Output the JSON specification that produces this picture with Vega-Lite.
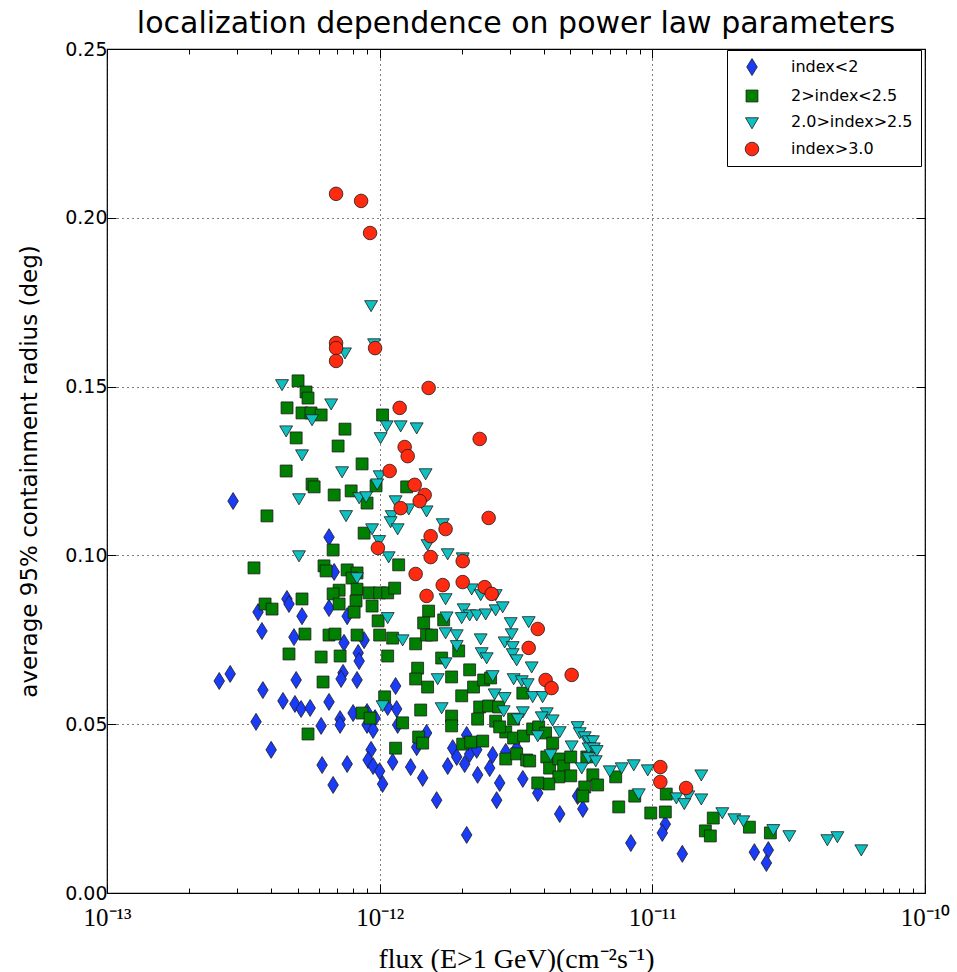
{
  "$schema": "https://vega.github.io/schema/vega-lite/v6.json",
  "width": 818,
  "height": 844,
  "autosize": {"type": "none"},
  "padding": {"left": 107, "top": 49, "right": 32, "bottom": 79},
  "background": "white",
  "title": {"text": "localization dependence on power law parameters", "font": "DejaVu Sans", "fontSize": 30, "fontWeight": "normal", "color": "#000", "anchor": "middle", "offset": 1},
  "config": {
    "view": {"stroke": "#000", "strokeWidth": 1.2},
    "axis": {"domain": false}
  },
  "datasets": {
    "pts": [
      {"group": "index<2", "flux": 2.90e-13, "radius": 0.1161},
      {"group": "index<2", "flux": 6.52e-13, "radius": 0.1054},
      {"group": "index<2", "flux": 6.81e-13, "radius": 0.0951},
      {"group": "index<2", "flux": 4.57e-13, "radius": 0.0871},
      {"group": "index<2", "flux": 4.65e-13, "radius": 0.0856},
      {"group": "index<2", "flux": 3.58e-13, "radius": 0.0832},
      {"group": "index<2", "flux": 5.19e-13, "radius": 0.0820},
      {"group": "index<2", "flux": 6.52e-13, "radius": 0.0844},
      {"group": "index<2", "flux": 7.60e-13, "radius": 0.0820},
      {"group": "index<2", "flux": 3.70e-13, "radius": 0.0776},
      {"group": "index<2", "flux": 4.85e-13, "radius": 0.0758},
      {"group": "index<2", "flux": 7.40e-13, "radius": 0.0741},
      {"group": "index<2", "flux": 8.77e-13, "radius": 0.0749},
      {"group": "index<2", "flux": 8.34e-13, "radius": 0.0711},
      {"group": "index<2", "flux": 8.41e-13, "radius": 0.0687},
      {"group": "index<2", "flux": 7.34e-13, "radius": 0.0652},
      {"group": "index<2", "flux": 7.22e-13, "radius": 0.0634},
      {"group": "index<2", "flux": 8.26e-13, "radius": 0.0631},
      {"group": "index<2", "flux": 2.58e-13, "radius": 0.0628},
      {"group": "index<2", "flux": 2.83e-13, "radius": 0.0649},
      {"group": "index<2", "flux": 3.73e-13, "radius": 0.0601},
      {"group": "index<2", "flux": 4.94e-13, "radius": 0.0631},
      {"group": "index<2", "flux": 1.144e-12, "radius": 0.0613},
      {"group": "index<2", "flux": 4.42e-13, "radius": 0.0569},
      {"group": "index<2", "flux": 4.89e-13, "radius": 0.0560},
      {"group": "index<2", "flux": 5.15e-13, "radius": 0.0545},
      {"group": "index<2", "flux": 5.56e-13, "radius": 0.0548},
      {"group": "index<2", "flux": 6.52e-13, "radius": 0.0566},
      {"group": "index<2", "flux": 7.99e-13, "radius": 0.0533},
      {"group": "index<2", "flux": 8.99e-13, "radius": 0.0536},
      {"group": "index<2", "flux": 7.16e-13, "radius": 0.0515},
      {"group": "index<2", "flux": 7.16e-13, "radius": 0.0498},
      {"group": "index<2", "flux": 6.10e-13, "radius": 0.0495},
      {"group": "index<2", "flux": 3.52e-13, "radius": 0.0507},
      {"group": "index<2", "flux": 9.62e-13, "radius": 0.0518},
      {"group": "index<2", "flux": 8.99e-13, "radius": 0.0498},
      {"group": "index<2", "flux": 9.46e-13, "radius": 0.0483},
      {"group": "index<2", "flux": 1.070e-12, "radius": 0.0551},
      {"group": "index<2", "flux": 1.154e-12, "radius": 0.0545},
      {"group": "index<2", "flux": 1.164e-12, "radius": 0.0498},
      {"group": "index<2", "flux": 4.00e-13, "radius": 0.0424},
      {"group": "index<2", "flux": 6.15e-13, "radius": 0.0379},
      {"group": "index<2", "flux": 7.60e-13, "radius": 0.0382},
      {"group": "index<2", "flux": 9.30e-13, "radius": 0.0424},
      {"group": "index<2", "flux": 9.07e-13, "radius": 0.0394},
      {"group": "index<2", "flux": 9.46e-13, "radius": 0.0376},
      {"group": "index<2", "flux": 1.00e-12, "radius": 0.0361},
      {"group": "index<2", "flux": 6.75e-13, "radius": 0.0320},
      {"group": "index<2", "flux": 1.025e-12, "radius": 0.0323},
      {"group": "index<2", "flux": 1.116e-12, "radius": 0.0388},
      {"group": "index<2", "flux": 1.299e-12, "radius": 0.0373},
      {"group": "index<2", "flux": 1.438e-12, "radius": 0.0341},
      {"group": "index<2", "flux": 1.618e-12, "radius": 0.0275},
      {"group": "index<2", "flux": 1.486e-12, "radius": 0.0474},
      {"group": "index<2", "flux": 1.367e-12, "radius": 0.0432},
      {"group": "index<2", "flux": 1.776e-12, "radius": 0.0376},
      {"group": "index<2", "flux": 1.853e-12, "radius": 0.0429},
      {"group": "index<2", "flux": 1.917e-12, "radius": 0.0403},
      {"group": "index<2", "flux": 2.138e-12, "radius": 0.0412},
      {"group": "index<2", "flux": 2.27e-12, "radius": 0.0424},
      {"group": "index<2", "flux": 2.05e-12, "radius": 0.0382},
      {"group": "index<2", "flux": 2.287e-12, "radius": 0.0350},
      {"group": "index<2", "flux": 2.085e-12, "radius": 0.0468},
      {"group": "index<2", "flux": 2.597e-12, "radius": 0.0409},
      {"group": "index<2", "flux": 2.90e-12, "radius": 0.0418},
      {"group": "index<2", "flux": 3.18e-12, "radius": 0.0429},
      {"group": "index<2", "flux": 2.532e-12, "radius": 0.0370},
      {"group": "index<2", "flux": 2.755e-12, "radius": 0.0326},
      {"group": "index<2", "flux": 3.35e-12, "radius": 0.0338},
      {"group": "index<2", "flux": 2.686e-12, "radius": 0.0275},
      {"group": "index<2", "flux": 3.80e-12, "radius": 0.0296},
      {"group": "index<2", "flux": 5.32e-12, "radius": 0.0287},
      {"group": "index<2", "flux": 5.56e-12, "radius": 0.0249},
      {"group": "index<2", "flux": 4.574e-12, "radius": 0.0234},
      {"group": "index<2", "flux": 2.085e-12, "radius": 0.0172},
      {"group": "index<2", "flux": 8.34e-12, "radius": 0.0148},
      {"group": "index<2", "flux": 1.116e-11, "radius": 0.0204},
      {"group": "index<2", "flux": 1.088e-11, "radius": 0.0178},
      {"group": "index<2", "flux": 1.288e-11, "radius": 0.0116},
      {"group": "index<2", "flux": 2.367e-11, "radius": 0.0121},
      {"group": "index<2", "flux": 2.663e-11, "radius": 0.0127},
      {"group": "index<2", "flux": 2.62e-11, "radius": 0.0089},

      {"group": "2>index<2.5", "flux": 5.02e-13, "radius": 0.1517},
      {"group": "2>index<2.5", "flux": 5.37e-13, "radius": 0.1484},
      {"group": "2>index<2.5", "flux": 5.46e-13, "radius": 0.1466},
      {"group": "2>index<2.5", "flux": 4.574e-13, "radius": 0.1437},
      {"group": "2>index<2.5", "flux": 5.19e-13, "radius": 0.1422},
      {"group": "2>index<2.5", "flux": 5.60e-13, "radius": 0.1422},
      {"group": "2>index<2.5", "flux": 6.10e-13, "radius": 0.1416},
      {"group": "2>index<2.5", "flux": 1.025e-12, "radius": 0.1416},
      {"group": "2>index<2.5", "flux": 7.46e-13, "radius": 0.1374},
      {"group": "2>index<2.5", "flux": 4.94e-13, "radius": 0.1348},
      {"group": "2>index<2.5", "flux": 7.04e-13, "radius": 0.1324},
      {"group": "2>index<2.5", "flux": 8.62e-13, "radius": 0.1271},
      {"group": "2>index<2.5", "flux": 4.54e-13, "radius": 0.1250},
      {"group": "2>index<2.5", "flux": 5.65e-13, "radius": 0.1211},
      {"group": "2>index<2.5", "flux": 5.75e-13, "radius": 0.1203},
      {"group": "2>index<2.5", "flux": 6.81e-13, "radius": 0.1179},
      {"group": "2>index<2.5", "flux": 7.86e-13, "radius": 0.1191},
      {"group": "2>index<2.5", "flux": 9.70e-13, "radius": 0.1206},
      {"group": "2>index<2.5", "flux": 1.256e-12, "radius": 0.1203},
      {"group": "2>index<2.5", "flux": 8.99e-13, "radius": 0.1155},
      {"group": "2>index<2.5", "flux": 3.86e-13, "radius": 0.1117},
      {"group": "2>index<2.5", "flux": 8.77e-13, "radius": 0.1066},
      {"group": "2>index<2.5", "flux": 6.75e-13, "radius": 0.1016},
      {"group": "2>index<2.5", "flux": 1.174e-12, "radius": 0.0972},
      {"group": "2>index<2.5", "flux": 3.46e-13, "radius": 0.0963},
      {"group": "2>index<2.5", "flux": 6.25e-13, "radius": 0.0969},
      {"group": "2>index<2.5", "flux": 6.36e-13, "radius": 0.0954},
      {"group": "2>index<2.5", "flux": 7.60e-13, "radius": 0.0957},
      {"group": "2>index<2.5", "flux": 8.26e-13, "radius": 0.0948},
      {"group": "2>index<2.5", "flux": 7.92e-13, "radius": 0.0933},
      {"group": "2>index<2.5", "flux": 8.26e-13, "radius": 0.0900},
      {"group": "2>index<2.5", "flux": 7.10e-13, "radius": 0.0897},
      {"group": "2>index<2.5", "flux": 6.75e-13, "radius": 0.0886},
      {"group": "2>index<2.5", "flux": 9.15e-13, "radius": 0.0889},
      {"group": "2>index<2.5", "flux": 1.00e-12, "radius": 0.0889},
      {"group": "2>index<2.5", "flux": 1.070e-12, "radius": 0.0889},
      {"group": "2>index<2.5", "flux": 1.135e-12, "radius": 0.0903},
      {"group": "2>index<2.5", "flux": 8.19e-13, "radius": 0.0865},
      {"group": "2>index<2.5", "flux": 7.10e-13, "radius": 0.0856},
      {"group": "2>index<2.5", "flux": 3.80e-13, "radius": 0.0856},
      {"group": "2>index<2.5", "flux": 4.03e-13, "radius": 0.0841},
      {"group": "2>index<2.5", "flux": 5.19e-13, "radius": 0.0871},
      {"group": "2>index<2.5", "flux": 9.38e-13, "radius": 0.0850},
      {"group": "2>index<2.5", "flux": 8.06e-13, "radius": 0.0832},
      {"group": "2>index<2.5", "flux": 1.512e-12, "radius": 0.0835},
      {"group": "2>index<2.5", "flux": 9.87e-13, "radius": 0.0806},
      {"group": "2>index<2.5", "flux": 1.450e-12, "radius": 0.0800},
      {"group": "2>index<2.5", "flux": 1.717e-12, "radius": 0.0809},
      {"group": "2>index<2.5", "flux": 5.32e-13, "radius": 0.0767},
      {"group": "2>index<2.5", "flux": 6.52e-13, "radius": 0.0764},
      {"group": "2>index<2.5", "flux": 6.86e-13, "radius": 0.0767},
      {"group": "2>index<2.5", "flux": 8.26e-13, "radius": 0.0764},
      {"group": "2>index<2.5", "flux": 1.00e-12, "radius": 0.0764},
      {"group": "2>index<2.5", "flux": 1.116e-12, "radius": 0.0755},
      {"group": "2>index<2.5", "flux": 1.355e-12, "radius": 0.0738},
      {"group": "2>index<2.5", "flux": 1.486e-12, "radius": 0.0764},
      {"group": "2>index<2.5", "flux": 1.551e-12, "radius": 0.0764},
      {"group": "2>index<2.5", "flux": 4.65e-13, "radius": 0.0708},
      {"group": "2>index<2.5", "flux": 6.10e-13, "radius": 0.0699},
      {"group": "2>index<2.5", "flux": 7.16e-13, "radius": 0.0702},
      {"group": "2>index<2.5", "flux": 1.070e-12, "radius": 0.0702},
      {"group": "2>index<2.5", "flux": 1.378e-12, "radius": 0.0666},
      {"group": "2>index<2.5", "flux": 1.355e-12, "radius": 0.0634},
      {"group": "2>index<2.5", "flux": 1.499e-12, "radius": 0.0610},
      {"group": "2>index<2.5", "flux": 1.688e-12, "radius": 0.0696},
      {"group": "2>index<2.5", "flux": 1.949e-12, "radius": 0.0717},
      {"group": "2>index<2.5", "flux": 2.138e-12, "radius": 0.0661},
      {"group": "2>index<2.5", "flux": 1.836e-12, "radius": 0.0640},
      {"group": "2>index<2.5", "flux": 6.20e-13, "radius": 0.0625},
      {"group": "2>index<2.5", "flux": 1.999e-12, "radius": 0.0584},
      {"group": "2>index<2.5", "flux": 2.21e-12, "radius": 0.0610},
      {"group": "2>index<2.5", "flux": 2.407e-12, "radius": 0.0631},
      {"group": "2>index<2.5", "flux": 2.553e-12, "radius": 0.0637},
      {"group": "2>index<2.5", "flux": 1.043e-12, "radius": 0.0581},
      {"group": "2>index<2.5", "flux": 1.414e-12, "radius": 0.0542},
      {"group": "2>index<2.5", "flux": 1.836e-12, "radius": 0.0524},
      {"group": "2>index<2.5", "flux": 1.836e-12, "radius": 0.0495},
      {"group": "2>index<2.5", "flux": 2.327e-12, "radius": 0.0551},
      {"group": "2>index<2.5", "flux": 2.51e-12, "radius": 0.0554},
      {"group": "2>index<2.5", "flux": 2.73e-12, "radius": 0.0551},
      {"group": "2>index<2.5", "flux": 2.287e-12, "radius": 0.0515},
      {"group": "2>index<2.5", "flux": 2.663e-12, "radius": 0.0509},
      {"group": "2>index<2.5", "flux": 8.62e-13, "radius": 0.0533},
      {"group": "2>index<2.5", "flux": 9.22e-13, "radius": 0.0518},
      {"group": "2>index<2.5", "flux": 1.214e-12, "radius": 0.0504},
      {"group": "2>index<2.5", "flux": 5.46e-13, "radius": 0.0471},
      {"group": "2>index<2.5", "flux": 1.39e-12, "radius": 0.0462},
      {"group": "2>index<2.5", "flux": 1.438e-12, "radius": 0.0444},
      {"group": "2>index<2.5", "flux": 2.016e-12, "radius": 0.0441},
      {"group": "2>index<2.5", "flux": 2.157e-12, "radius": 0.0447},
      {"group": "2>index<2.5", "flux": 2.387e-12, "radius": 0.0450},
      {"group": "2>index<2.5", "flux": 1.144e-12, "radius": 0.0429},
      {"group": "2>index<2.5", "flux": 3.35e-12, "radius": 0.0592},
      {"group": "2>index<2.5", "flux": 3.10e-12, "radius": 0.0515},
      {"group": "2>index<2.5", "flux": 2.90e-12, "radius": 0.0477},
      {"group": "2>index<2.5", "flux": 3.10e-12, "radius": 0.0459},
      {"group": "2>index<2.5", "flux": 3.37e-12, "radius": 0.0465},
      {"group": "2>index<2.5", "flux": 3.64e-12, "radius": 0.0486},
      {"group": "2>index<2.5", "flux": 3.83e-12, "radius": 0.0492},
      {"group": "2>index<2.5", "flux": 4.06e-12, "radius": 0.0474},
      {"group": "2>index<2.5", "flux": 4.31e-12, "radius": 0.0444},
      {"group": "2>index<2.5", "flux": 2.90e-12, "radius": 0.0397},
      {"group": "2>index<2.5", "flux": 3.18e-12, "radius": 0.0412},
      {"group": "2>index<2.5", "flux": 3.46e-12, "radius": 0.0394},
      {"group": "2>index<2.5", "flux": 3.55e-12, "radius": 0.0391},
      {"group": "2>index<2.5", "flux": 4.10e-12, "radius": 0.0403},
      {"group": "2>index<2.5", "flux": 4.20e-12, "radius": 0.0370},
      {"group": "2>index<2.5", "flux": 4.54e-12, "radius": 0.0397},
      {"group": "2>index<2.5", "flux": 4.73e-12, "radius": 0.0376},
      {"group": "2>index<2.5", "flux": 5.02e-12, "radius": 0.0403},
      {"group": "2>index<2.5", "flux": 5.02e-12, "radius": 0.0347},
      {"group": "2>index<2.5", "flux": 4.54e-12, "radius": 0.0344},
      {"group": "2>index<2.5", "flux": 4.17e-12, "radius": 0.0323},
      {"group": "2>index<2.5", "flux": 3.80e-12, "radius": 0.0326},
      {"group": "2>index<2.5", "flux": 5.75e-12, "radius": 0.0403},
      {"group": "2>index<2.5", "flux": 6.05e-12, "radius": 0.0350},
      {"group": "2>index<2.5", "flux": 6.30e-12, "radius": 0.0320},
      {"group": "2>index<2.5", "flux": 5.65e-12, "radius": 0.0314},
      {"group": "2>index<2.5", "flux": 5.56e-12, "radius": 0.0287},
      {"group": "2>index<2.5", "flux": 7.34e-12, "radius": 0.0344},
      {"group": "2>index<2.5", "flux": 7.53e-12, "radius": 0.0255},
      {"group": "2>index<2.5", "flux": 8.62e-12, "radius": 0.0287},
      {"group": "2>index<2.5", "flux": 9.87e-12, "radius": 0.0237},
      {"group": "2>index<2.5", "flux": 1.125e-11, "radius": 0.0293},
      {"group": "2>index<2.5", "flux": 1.116e-11, "radius": 0.0240},
      {"group": "2>index<2.5", "flux": 1.673e-11, "radius": 0.0222},
      {"group": "2>index<2.5", "flux": 1.565e-11, "radius": 0.0184},
      {"group": "2>index<2.5", "flux": 1.632e-11, "radius": 0.0169},
      {"group": "2>index<2.5", "flux": 2.27e-11, "radius": 0.0195},
      {"group": "2>index<2.5", "flux": 2.71e-11, "radius": 0.0178},
      {"group": "2>index<2.5", "flux": 2.755e-12, "radius": 0.0492},

      {"group": "2.0>index>2.5", "flux": 9.30e-13, "radius": 0.1742},
      {"group": "2.0>index>2.5", "flux": 9.54e-13, "radius": 0.1629},
      {"group": "2.0>index>2.5", "flux": 7.46e-13, "radius": 0.1602},
      {"group": "2.0>index>2.5", "flux": 4.385e-13, "radius": 0.1508},
      {"group": "2.0>index>2.5", "flux": 6.64e-13, "radius": 0.1451},
      {"group": "2.0>index>2.5", "flux": 5.65e-13, "radius": 0.1404},
      {"group": "2.0>index>2.5", "flux": 4.54e-13, "radius": 0.1371},
      {"group": "2.0>index>2.5", "flux": 1.061e-12, "radius": 0.1386},
      {"group": "2.0>index>2.5", "flux": 1.194e-12, "radius": 0.1386},
      {"group": "2.0>index>2.5", "flux": 1.367e-12, "radius": 0.1380},
      {"group": "2.0>index>2.5", "flux": 1.008e-12, "radius": 0.1351},
      {"group": "2.0>index>2.5", "flux": 5.19e-13, "radius": 0.1300},
      {"group": "2.0>index>2.5", "flux": 7.28e-13, "radius": 0.1250},
      {"group": "2.0>index>2.5", "flux": 1.00e-12, "radius": 0.1238},
      {"group": "2.0>index>2.5", "flux": 1.474e-12, "radius": 0.1244},
      {"group": "2.0>index>2.5", "flux": 9.79e-13, "radius": 0.1214},
      {"group": "2.0>index>2.5", "flux": 8.41e-13, "radius": 0.1173},
      {"group": "2.0>index>2.5", "flux": 8.92e-13, "radius": 0.1176},
      {"group": "2.0>index>2.5", "flux": 5.06e-13, "radius": 0.1170},
      {"group": "2.0>index>2.5", "flux": 1.144e-12, "radius": 0.1164},
      {"group": "2.0>index>2.5", "flux": 1.278e-12, "radius": 0.1140},
      {"group": "2.0>index>2.5", "flux": 1.486e-12, "radius": 0.1134},
      {"group": "2.0>index>2.5", "flux": 1.107e-12, "radius": 0.1120},
      {"group": "2.0>index>2.5", "flux": 7.53e-13, "radius": 0.1120},
      {"group": "2.0>index>2.5", "flux": 1.097e-12, "radius": 0.1102},
      {"group": "2.0>index>2.5", "flux": 1.164e-12, "radius": 0.1081},
      {"group": "2.0>index>2.5", "flux": 9.38e-13, "radius": 0.1081},
      {"group": "2.0>index>2.5", "flux": 1.703e-12, "radius": 0.1096},
      {"group": "2.0>index>2.5", "flux": 9.96e-13, "radius": 0.1046},
      {"group": "2.0>index>2.5", "flux": 1.499e-12, "radius": 0.1034},
      {"group": "2.0>index>2.5", "flux": 5.06e-13, "radius": 0.1001},
      {"group": "2.0>index>2.5", "flux": 1.079e-12, "radius": 0.0998},
      {"group": "2.0>index>2.5", "flux": 1.776e-12, "radius": 0.1007},
      {"group": "2.0>index>2.5", "flux": 2.016e-12, "radius": 0.0995},
      {"group": "2.0>index>2.5", "flux": 8.26e-13, "radius": 0.0936},
      {"group": "2.0>index>2.5", "flux": 2.175e-12, "radius": 0.0903},
      {"group": "2.0>index>2.5", "flux": 2.347e-12, "radius": 0.0886},
      {"group": "2.0>index>2.5", "flux": 1.745e-12, "radius": 0.0874},
      {"group": "2.0>index>2.5", "flux": 2.663e-12, "radius": 0.0886},
      {"group": "2.0>index>2.5", "flux": 2.033e-12, "radius": 0.0844},
      {"group": "2.0>index>2.5", "flux": 2.138e-12, "radius": 0.0826},
      {"group": "2.0>index>2.5", "flux": 2.27e-12, "radius": 0.0826},
      {"group": "2.0>index>2.5", "flux": 2.448e-12, "radius": 0.0829},
      {"group": "2.0>index>2.5", "flux": 2.663e-12, "radius": 0.0841},
      {"group": "2.0>index>2.5", "flux": 2.826e-12, "radius": 0.0850},
      {"group": "2.0>index>2.5", "flux": 1.76e-12, "radius": 0.0820},
      {"group": "2.0>index>2.5", "flux": 1.999e-12, "radius": 0.0818},
      {"group": "2.0>index>2.5", "flux": 1.070e-12, "radius": 0.0818},
      {"group": "2.0>index>2.5", "flux": 1.745e-12, "radius": 0.0773},
      {"group": "2.0>index>2.5", "flux": 1.917e-12, "radius": 0.0767},
      {"group": "2.0>index>2.5", "flux": 2.347e-12, "radius": 0.0755},
      {"group": "2.0>index>2.5", "flux": 1.214e-12, "radius": 0.0752},
      {"group": "2.0>index>2.5", "flux": 3.024e-12, "radius": 0.0803},
      {"group": "2.0>index>2.5", "flux": 3.52e-12, "radius": 0.0806},
      {"group": "2.0>index>2.5", "flux": 1.917e-12, "radius": 0.0735},
      {"group": "2.0>index>2.5", "flux": 2.874e-12, "radius": 0.0746},
      {"group": "2.0>index>2.5", "flux": 3.075e-12, "radius": 0.0732},
      {"group": "2.0>index>2.5", "flux": 3.049e-12, "radius": 0.0770},
      {"group": "2.0>index>2.5", "flux": 2.367e-12, "radius": 0.0714},
      {"group": "2.0>index>2.5", "flux": 2.469e-12, "radius": 0.0699},
      {"group": "2.0>index>2.5", "flux": 3.075e-12, "radius": 0.0711},
      {"group": "2.0>index>2.5", "flux": 3.18e-12, "radius": 0.0693},
      {"group": "2.0>index>2.5", "flux": 1.745e-12, "radius": 0.0684},
      {"group": "2.0>index>2.5", "flux": 3.61e-12, "radius": 0.0672},
      {"group": "2.0>index>2.5", "flux": 2.597e-12, "radius": 0.0646},
      {"group": "2.0>index>2.5", "flux": 3.10e-12, "radius": 0.0637},
      {"group": "2.0>index>2.5", "flux": 3.32e-12, "radius": 0.0631},
      {"group": "2.0>index>2.5", "flux": 3.49e-12, "radius": 0.0622},
      {"group": "2.0>index>2.5", "flux": 1.632e-12, "radius": 0.0637},
      {"group": "2.0>index>2.5", "flux": 2.641e-12, "radius": 0.0592},
      {"group": "2.0>index>2.5", "flux": 2.874e-12, "radius": 0.0581},
      {"group": "2.0>index>2.5", "flux": 3.64e-12, "radius": 0.0584},
      {"group": "2.0>index>2.5", "flux": 3.96e-12, "radius": 0.0584},
      {"group": "2.0>index>2.5", "flux": 1.688e-12, "radius": 0.0551},
      {"group": "2.0>index>2.5", "flux": 1.025e-12, "radius": 0.0557},
      {"group": "2.0>index>2.5", "flux": 2.85e-12, "radius": 0.0542},
      {"group": "2.0>index>2.5", "flux": 3.35e-12, "radius": 0.0539},
      {"group": "2.0>index>2.5", "flux": 3.21e-12, "radius": 0.0518},
      {"group": "2.0>index>2.5", "flux": 4.10e-12, "radius": 0.0536},
      {"group": "2.0>index>2.5", "flux": 3.93e-12, "radius": 0.0524},
      {"group": "2.0>index>2.5", "flux": 4.31e-12, "radius": 0.0515},
      {"group": "2.0>index>2.5", "flux": 3.80e-12, "radius": 0.0468},
      {"group": "2.0>index>2.5", "flux": 4.574e-12, "radius": 0.0480},
      {"group": "2.0>index>2.5", "flux": 5.32e-12, "radius": 0.0495},
      {"group": "2.0>index>2.5", "flux": 5.417e-12, "radius": 0.0477},
      {"group": "2.0>index>2.5", "flux": 5.651e-12, "radius": 0.0465},
      {"group": "2.0>index>2.5", "flux": 5.84e-12, "radius": 0.0453},
      {"group": "2.0>index>2.5", "flux": 6.05e-12, "radius": 0.0453},
      {"group": "2.0>index>2.5", "flux": 5.84e-12, "radius": 0.0432},
      {"group": "2.0>index>2.5", "flux": 6.10e-12, "radius": 0.0432},
      {"group": "2.0>index>2.5", "flux": 6.25e-12, "radius": 0.0424},
      {"group": "2.0>index>2.5", "flux": 5.06e-12, "radius": 0.0438},
      {"group": "2.0>index>2.5", "flux": 5.84e-12, "radius": 0.0403},
      {"group": "2.0>index>2.5", "flux": 4.24e-12, "radius": 0.0412},
      {"group": "2.0>index>2.5", "flux": 6.20e-12, "radius": 0.0394},
      {"group": "2.0>index>2.5", "flux": 5.51e-12, "radius": 0.0373},
      {"group": "2.0>index>2.5", "flux": 6.98e-12, "radius": 0.0364},
      {"group": "2.0>index>2.5", "flux": 7.72e-12, "radius": 0.0373},
      {"group": "2.0>index>2.5", "flux": 8.55e-12, "radius": 0.0382},
      {"group": "2.0>index>2.5", "flux": 9.62e-12, "radius": 0.0367},
      {"group": "2.0>index>2.5", "flux": 8.92e-12, "radius": 0.0296},
      {"group": "2.0>index>2.5", "flux": 1.225e-11, "radius": 0.0284},
      {"group": "2.0>index>2.5", "flux": 1.355e-11, "radius": 0.0290},
      {"group": "2.0>index>2.5", "flux": 1.310e-11, "radius": 0.0267},
      {"group": "2.0>index>2.5", "flux": 1.512e-11, "radius": 0.0352},
      {"group": "2.0>index>2.5", "flux": 1.512e-11, "radius": 0.0281},
      {"group": "2.0>index>2.5", "flux": 1.806e-11, "radius": 0.0240},
      {"group": "2.0>index>2.5", "flux": 1.999e-11, "radius": 0.0222},
      {"group": "2.0>index>2.5", "flux": 2.157e-11, "radius": 0.0216},
      {"group": "2.0>index>2.5", "flux": 2.778e-11, "radius": 0.0190},
      {"group": "2.0>index>2.5", "flux": 3.18e-11, "radius": 0.0172},
      {"group": "2.0>index>2.5", "flux": 4.385e-11, "radius": 0.0160},
      {"group": "2.0>index>2.5", "flux": 4.772e-11, "radius": 0.0169},
      {"group": "2.0>index>2.5", "flux": 5.84e-11, "radius": 0.0130},

      {"group": "index>3.0", "flux": 6.92e-13, "radius": 0.2071},
      {"group": "index>3.0", "flux": 8.55e-13, "radius": 0.2050},
      {"group": "index>3.0", "flux": 9.22e-13, "radius": 0.1955},
      {"group": "index>3.0", "flux": 6.92e-13, "radius": 0.1629},
      {"group": "index>3.0", "flux": 6.92e-13, "radius": 0.1614},
      {"group": "index>3.0", "flux": 6.92e-13, "radius": 0.1576},
      {"group": "index>3.0", "flux": 9.62e-13, "radius": 0.1614},
      {"group": "index>3.0", "flux": 1.512e-12, "radius": 0.1496},
      {"group": "index>3.0", "flux": 1.184e-12, "radius": 0.1437},
      {"group": "index>3.0", "flux": 2.327e-12, "radius": 0.1345},
      {"group": "index>3.0", "flux": 1.235e-12, "radius": 0.1321},
      {"group": "index>3.0", "flux": 1.267e-12, "radius": 0.1294},
      {"group": "index>3.0", "flux": 1.088e-12, "radius": 0.1250},
      {"group": "index>3.0", "flux": 1.344e-12, "radius": 0.1209},
      {"group": "index>3.0", "flux": 1.462e-12, "radius": 0.1179},
      {"group": "index>3.0", "flux": 1.402e-12, "radius": 0.1161},
      {"group": "index>3.0", "flux": 1.194e-12, "radius": 0.1140},
      {"group": "index>3.0", "flux": 2.51e-12, "radius": 0.1111},
      {"group": "index>3.0", "flux": 1.745e-12, "radius": 0.1078},
      {"group": "index>3.0", "flux": 1.538e-12, "radius": 0.1057},
      {"group": "index>3.0", "flux": 9.85e-13, "radius": 0.1022},
      {"group": "index>3.0", "flux": 1.538e-12, "radius": 0.0995},
      {"group": "index>3.0", "flux": 2.016e-12, "radius": 0.0983},
      {"group": "index>3.0", "flux": 1.355e-12, "radius": 0.0945},
      {"group": "index>3.0", "flux": 1.703e-12, "radius": 0.0912},
      {"group": "index>3.0", "flux": 2.016e-12, "radius": 0.0921},
      {"group": "index>3.0", "flux": 2.427e-12, "radius": 0.0906},
      {"group": "index>3.0", "flux": 2.575e-12, "radius": 0.0886},
      {"group": "index>3.0", "flux": 1.486e-12, "radius": 0.0880},
      {"group": "index>3.0", "flux": 3.80e-12, "radius": 0.0782},
      {"group": "index>3.0", "flux": 3.52e-12, "radius": 0.0726},
      {"group": "index>3.0", "flux": 5.06e-12, "radius": 0.0646},
      {"group": "index>3.0", "flux": 4.06e-12, "radius": 0.0631},
      {"group": "index>3.0", "flux": 4.27e-12, "radius": 0.0607},
      {"group": "index>3.0", "flux": 1.07e-11, "radius": 0.0373},
      {"group": "index>3.0", "flux": 1.07e-11, "radius": 0.0329},
      {"group": "index>3.0", "flux": 1.33e-11, "radius": 0.0311}
    ]
  },
  "data": {"name": "pts"},
  "layer": [
    {
      "mark": {"type": "point", "filled": true, "opacity": 1, "size": 289, "stroke": "#1a1a1a", "strokeWidth": 0.8},
      "encoding": {
        "x": {
          "field": "flux", "type": "quantitative",
          "scale": {"type": "log", "domain": [1e-13, 1e-10]},
          "axis": {
            "orient": "bottom",
            "values": [1e-13, 2e-13, 3e-13, 4e-13, 5e-13, 6e-13, 7e-13, 8e-13, 9e-13, 1e-12, 2e-12, 3e-12, 4e-12, 5e-12, 6e-12, 7e-12, 8e-12, 9e-12, 1e-11, 2e-11, 3e-11, 4e-11, 5e-11, 6e-11, 7e-11, 8e-11, 9e-11, 1e-10],
            "labelExpr": "abs(log(datum.value)/LN10-round(log(datum.value)/LN10))<0.01 ? (round(log(datum.value)/LN10)==-13 ? '10⁻¹³' : round(log(datum.value)/LN10)==-12 ? '10⁻¹²' : round(log(datum.value)/LN10)==-11 ? '10⁻¹¹' : '10⁻¹⁰') : ''",
            "labelFont": "Liberation Serif", "labelFontSize": 25, "labelColor": "#000",
            "labelPadding": 21, "labelOverlap": false, "labelFlush": false,
            "tickColor": "#000", "tickWidth": 1,
            "tickSize": {"condition": {"test": "abs(log(datum.value)/LN10-round(log(datum.value)/LN10))<0.01", "value": -9}, "value": -5},
            "grid": true, "gridColor": "#000", "gridDash": [1, 4], "gridWidth": 1,
            "gridOpacity": {"condition": {"test": "abs(log(datum.value)/LN10-round(log(datum.value)/LN10))<0.01", "value": 1}, "value": 0},
            "title": "flux (E>1 GeV)(cm⁻²s⁻¹)",
            "titleFont": "Liberation Serif", "titleFontSize": 28, "titleFontWeight": "normal", "titleColor": "#000", "titlePadding": 11
          }
        },
        "y": {
          "field": "radius", "type": "quantitative",
          "scale": {"domain": [0, 0.25], "nice": false, "zero": false},
          "axis": {
            "orient": "left",
            "values": [0, 0.05, 0.1, 0.15, 0.2, 0.25],
            "format": ".2f",
            "labelFont": "DejaVu Sans", "labelFontSize": 19, "labelColor": "#000", "labelPadding": 9,
            "labelOverlap": false, "labelFlush": false,
            "tickColor": "#000", "tickSize": -9, "tickWidth": 1,
            "grid": true, "gridColor": "#000", "gridDash": [1, 4], "gridWidth": 1,
            "title": "average 95% containment radius (deg)",
            "titleFont": "DejaVu Sans", "titleFontSize": 23, "titleFontWeight": "normal", "titleColor": "#000", "titlePadding": 23
          }
        },
        "color": {
          "field": "group", "type": "nominal",
          "scale": {"domain": ["index<2", "2>index<2.5", "2.0>index>2.5", "index>3.0"], "range": ["#1a3cf8", "#008000", "#10c0c0", "#ff2a10"]},
          "legend": {"orient": "none", "legendX": 620, "legendY": 1, "title": null, "strokeColor": "#000", "fillColor": "#fff", "padding": 8, "rowPadding": 9, "labelFont": "DejaVu Sans", "labelFontSize": 16, "labelColor": "#000", "labelOffset": 30, "symbolOffset": 8, "symbolSize": 289, "symbolStrokeColor": "#1a1a1a", "symbolStrokeWidth": 0.8}
        },
        "shape": {
          "field": "group", "type": "nominal",
          "scale": {"domain": ["index<2", "2>index<2.5", "2.0>index>2.5", "index>3.0"], "range": ["M0,-1L0.62,0L0,1L-0.62,0Z", "M-0.7,-0.7L0.7,-0.7L0.7,0.7L-0.7,0.7Z", "M-0.76,-0.5L0.76,-0.5L0,0.8Z", "M0.8,0L0.739,0.306L0.566,0.566L0.306,0.739L0,0.8L-0.306,0.739L-0.566,0.566L-0.739,0.306L-0.8,0L-0.739,-0.306L-0.566,-0.566L-0.306,-0.739L0,-0.8L0.306,-0.739L0.566,-0.566L0.739,-0.306Z"]},
          "legend": {"orient": "none", "legendX": 620, "legendY": 1, "title": null, "strokeColor": "#000", "fillColor": "#fff", "padding": 8, "rowPadding": 9, "labelFont": "DejaVu Sans", "labelFontSize": 16, "labelColor": "#000", "labelOffset": 30, "symbolOffset": 8, "symbolSize": 289, "symbolStrokeColor": "#1a1a1a", "symbolStrokeWidth": 0.8}
        }
      }
    },
    {
      "mark": {"type": "point", "opacity": 0},
      "encoding": {
        "x": {
          "field": "flux", "type": "quantitative",
          "scale": {"type": "log", "domain": [1e-13, 1e-10]},
          "axis": {
            "orient": "top",
            "values": [1e-13, 2e-13, 3e-13, 4e-13, 5e-13, 6e-13, 7e-13, 8e-13, 9e-13, 1e-12, 2e-12, 3e-12, 4e-12, 5e-12, 6e-12, 7e-12, 8e-12, 9e-12, 1e-11, 2e-11, 3e-11, 4e-11, 5e-11, 6e-11, 7e-11, 8e-11, 9e-11, 1e-10],
            "labels": false, "grid": false, "title": null,
            "tickColor": "#000", "tickWidth": 1,
            "tickSize": {"condition": {"test": "abs(log(datum.value)/LN10-round(log(datum.value)/LN10))<0.01", "value": -9}, "value": -5}
          }
        },
        "y": {
          "field": "radius", "type": "quantitative",
          "scale": {"domain": [0, 0.25], "nice": false, "zero": false},
          "axis": {
            "orient": "right",
            "values": [0, 0.05, 0.1, 0.15, 0.2, 0.25],
            "labels": false, "grid": false, "title": null,
            "tickColor": "#000", "tickSize": -9, "tickWidth": 1
          }
        }
      }
    }
  ],
  "resolve": {"axis": {"x": "independent", "y": "independent"}}
}
